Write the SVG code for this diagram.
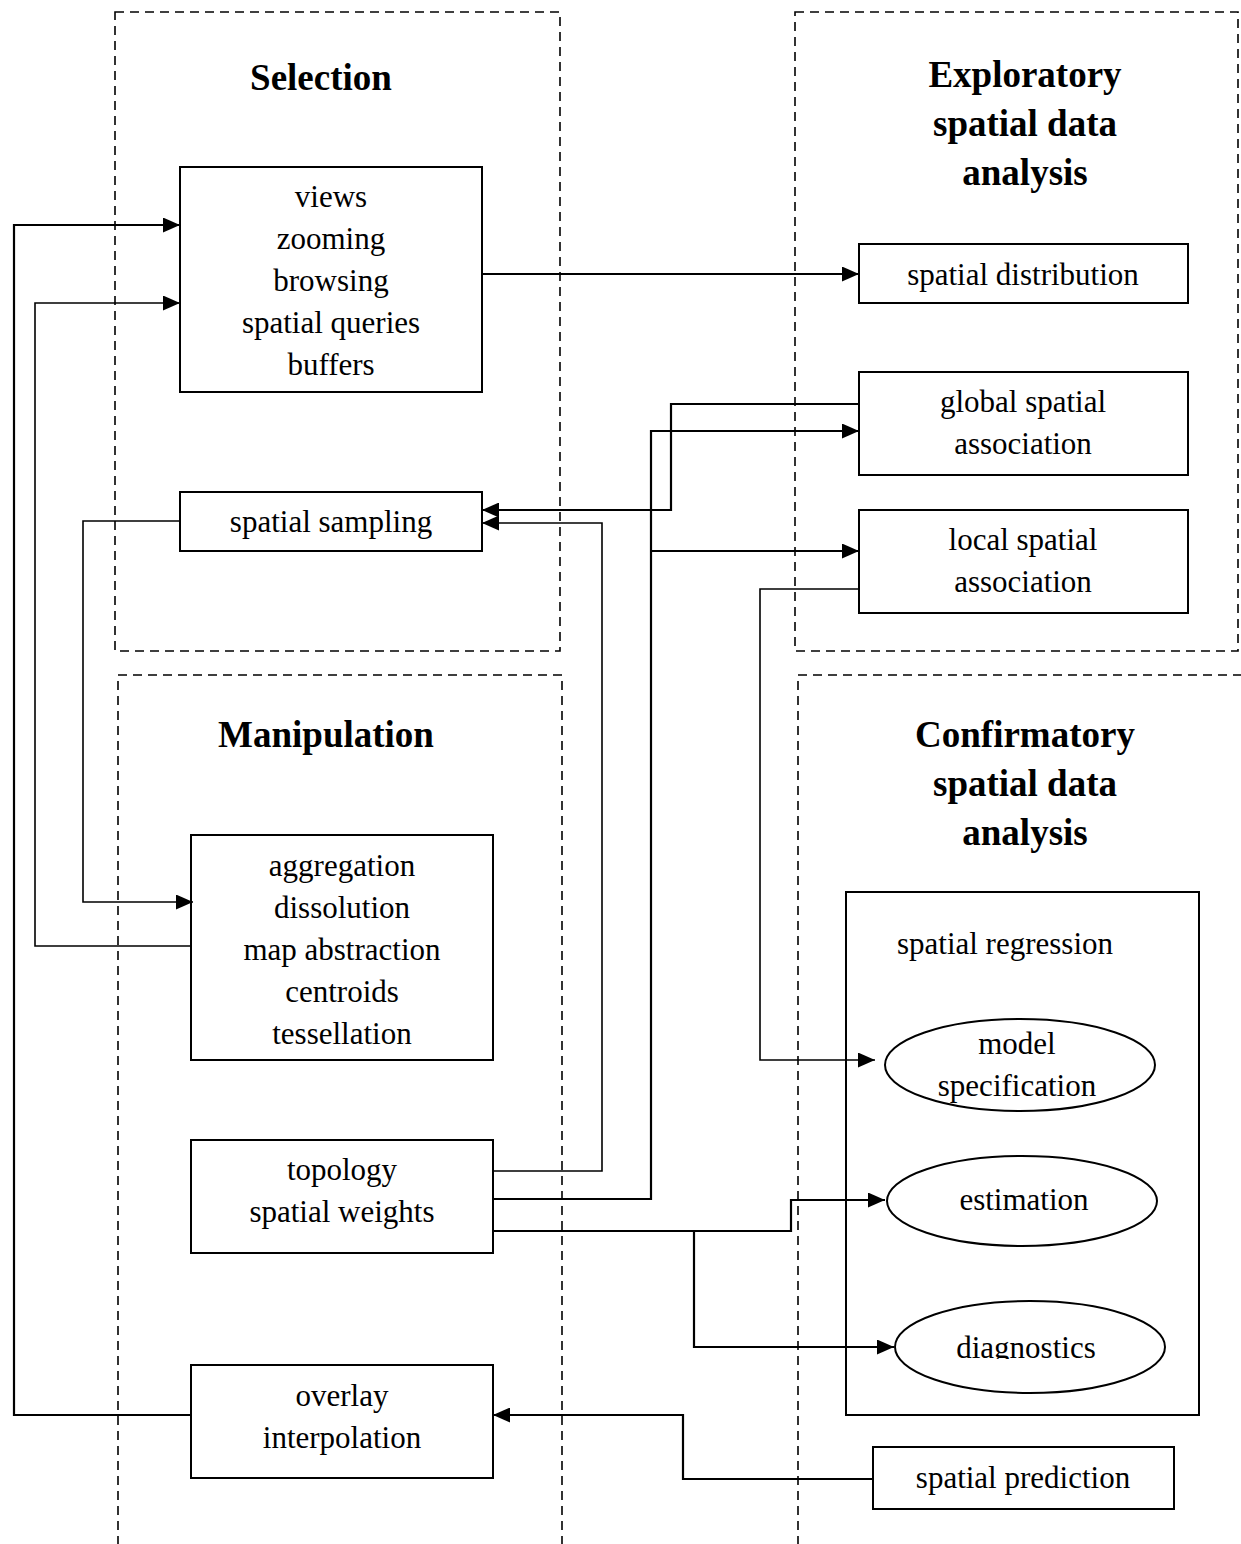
<svg xmlns="http://www.w3.org/2000/svg" width="1241" height="1544" viewBox="0 0 1241 1544">
  <style>
    .zone { fill: none; stroke: #000; stroke-width: 1.6; stroke-dasharray: 9 6; }
    .box { fill: none; stroke: #000; stroke-width: 2; }
    .oval { fill: #fff; stroke: #000; stroke-width: 2; }
    .title { font-family: "Liberation Serif", "Times New Roman", serif; font-weight: bold; font-size: 37px; text-anchor: middle; fill: #000; }
    .lbl { font-family: "Liberation Serif", "Times New Roman", serif; font-size: 31px; text-anchor: middle; fill: #000; }
    .wire { fill: none; stroke: #000; stroke-width: 2.2; }
    .thin { stroke-width: 1.6; }
    .arr { marker-end: url(#head); }
  </style>
  <defs>
    <marker id="head" markerUnits="userSpaceOnUse" markerWidth="17" markerHeight="15" refX="17" refY="7.5" orient="auto">
      <path d="M0,0 L17,7.5 L0,15 z" fill="#000"/>
    </marker>
    <clipPath id="diagClip">
      <rect x="880" y="1290" width="300" height="69"/>
    </clipPath>
  </defs>
  <rect width="1241" height="1544" fill="#fff"/>

  <!-- dashed zones -->
  <g id="zones">
    <rect class="zone" x="115" y="12" width="445" height="639"/>
    <rect class="zone" x="795" y="12" width="443" height="639"/>
    <path class="zone" d="M118,1560 V675 H562 V1560"/>
    <path class="zone" d="M798,1560 V675 H1260"/>
  </g>

  <!-- zone titles -->
  <g id="titles">
    <text class="title" x="321" y="90">Selection</text>
    <text class="title" x="1025" y="87">Exploratory</text>
    <text class="title" x="1025" y="136">spatial data</text>
    <text class="title" x="1025" y="185">analysis</text>
    <text class="title" x="326" y="747">Manipulation</text>
    <text class="title" x="1025" y="747">Confirmatory</text>
    <text class="title" x="1025" y="796">spatial data</text>
    <text class="title" x="1025" y="845">analysis</text>
  </g>

  <!-- connectors -->
  <g id="connectors">
    <path class="wire arr" d="M191,1415 H14 V225 H180"/>
    <path class="wire thin arr" d="M191,946 H35 V303 H180"/>
    <path class="wire thin arr" d="M180,521 H83 V902 H193"/>
    <path class="wire arr" d="M482,274 H859"/>
    <path class="wire arr" d="M859,404 H671 V510 H482"/>
    <path class="wire thin arr" d="M493,1171 H602 V523 H482"/>
    <path class="wire arr" d="M493,1199 H651 V431 H859"/>
    <path class="wire arr" d="M651,551 H859"/>
    <path class="wire thin arr" d="M859,589 H760 V1060 H875"/>
    <path class="wire arr" d="M493,1231 H791 V1200 H885"/>
    <path class="wire arr" d="M694,1231 V1347 H894"/>
    <path class="wire arr" d="M873,1479 H683 V1415 H493"/>
  </g>

  <!-- Selection -->
  <g id="node-views">
    <rect class="box" x="180" y="167" width="302" height="225"/>
    <text class="lbl" x="331" y="207">views</text>
    <text class="lbl" x="331" y="249">zooming</text>
    <text class="lbl" x="331" y="291">browsing</text>
    <text class="lbl" x="331" y="333">spatial queries</text>
    <text class="lbl" x="331" y="375">buffers</text>
  </g>
  <g id="node-sampling">
    <rect class="box" x="180" y="492" width="302" height="59"/>
    <text class="lbl" x="331" y="532">spatial sampling</text>
  </g>

  <!-- Exploratory -->
  <g id="node-distribution">
    <rect class="box" x="859" y="244" width="329" height="59"/>
    <text class="lbl" x="1023" y="285">spatial distribution</text>
  </g>
  <g id="node-global">
    <rect class="box" x="859" y="372" width="329" height="103"/>
    <text class="lbl" x="1023" y="412">global spatial</text>
    <text class="lbl" x="1023" y="454">association</text>
  </g>
  <g id="node-local">
    <rect class="box" x="859" y="510" width="329" height="103"/>
    <text class="lbl" x="1023" y="550">local spatial</text>
    <text class="lbl" x="1023" y="592">association</text>
  </g>

  <!-- Manipulation -->
  <g id="node-aggregation">
    <rect class="box" x="191" y="835" width="302" height="225"/>
    <text class="lbl" x="342" y="876">aggregation</text>
    <text class="lbl" x="342" y="918">dissolution</text>
    <text class="lbl" x="342" y="960">map abstraction</text>
    <text class="lbl" x="342" y="1002">centroids</text>
    <text class="lbl" x="342" y="1044">tessellation</text>
  </g>
  <g id="node-topology">
    <rect class="box" x="191" y="1140" width="302" height="113"/>
    <text class="lbl" x="342" y="1180">topology</text>
    <text class="lbl" x="342" y="1222">spatial weights</text>
  </g>
  <g id="node-overlay">
    <rect class="box" x="191" y="1365" width="302" height="113"/>
    <text class="lbl" x="342" y="1406">overlay</text>
    <text class="lbl" x="342" y="1448">interpolation</text>
  </g>

  <!-- Confirmatory -->
  <g id="node-regression">
    <rect class="box" x="846" y="892" width="353" height="523"/>
    <text class="lbl" x="1005" y="954">spatial regression</text>
  </g>
  <g id="node-model">
    <ellipse class="oval" cx="1020" cy="1065" rx="135" ry="46"/>
    <text class="lbl" x="1017" y="1054">model</text>
    <text class="lbl" x="1017" y="1096">specification</text>
  </g>
  <g id="node-estimation">
    <ellipse class="oval" cx="1022" cy="1201" rx="135" ry="45"/>
    <text class="lbl" x="1024" y="1210">estimation</text>
  </g>
  <g id="node-diagnostics">
    <ellipse class="oval" cx="1030" cy="1347" rx="135" ry="46"/>
    <text class="lbl" x="1026" y="1358" clip-path="url(#diagClip)">diagnostics</text>
  </g>
  <g id="node-prediction">
    <rect class="box" x="873" y="1447" width="301" height="62"/>
    <text class="lbl" x="1023" y="1488">spatial prediction</text>
  </g>
</svg>
